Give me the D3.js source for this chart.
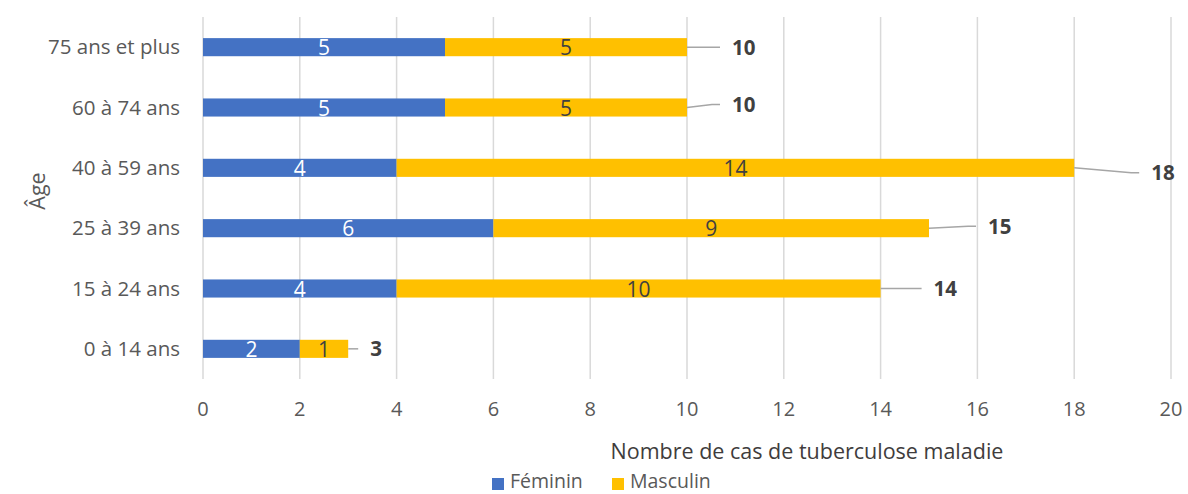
<!DOCTYPE html>
<html>
  <head>
    <meta charset="utf-8">
    <script src="https://cdn.jsdelivr.net/npm/d3@7"></script>
    <style>
      body, html {
        margin: 0;
        padding: 0;
        background: #fff;
        font-family: "Open Sans", "Noto Sans", sans-serif;
        overflow: hidden;
      }
    </style>
  </head>
  <body>
    <div id="chart"></div>
    <script>
    // data
    var ages = ['75 ans et plus', '60 à 74 ans', '40 à 59 ans', '25 à 39 ans', '15 à 24 ans', '0 à 14 ans'];
    var feminin = [5, 5, 4, 6, 4, 2];
    var masculin = [5, 5, 14, 9, 10, 1];
    var totals = [10, 10, 18, 15, 14, 3];
    var xTicks = [0, 2, 4, 6, 8, 10, 12, 14, 16, 18, 20];
    var seriesNames = ['Féminin', 'Masculin'];
    var colors = ['#4472C4', '#FFC000'];
    // leader line end offsets from bar end (px): dx, dy
    var leaderOff = [[33, 0], [33, -3], [65, 5], [47, -2], [41, 0], [10, 0]];

    var W = 1188, H = 494;
    var svg = d3.select('#chart').append('svg').attr('width', W).attr('height', H);

    var x = d3.scaleLinear().domain([0, 20]).range([203, 1171]);
    var y = d3.scaleBand().domain(ages).range([17, 379]).paddingInner(0.7).paddingOuter(0.35);

    // gridlines
    svg.append('g').selectAll('line').data(xTicks).enter().append('line')
      .attr('x1', function(d) { return x(d); })
      .attr('x2', function(d) { return x(d); })
      .attr('y1', 17).attr('y2', 379)
      .attr('stroke', '#d9d9d9').attr('stroke-width', 1.5);

    // tick labels
    svg.append('g').selectAll('text').data(xTicks).enter().append('text')
      .attr('x', function(d) { return x(d); })
      .attr('y', 416)
      .attr('text-anchor', 'middle')
      .attr('font-size', 20)
      .attr('fill', '#595959')
      .text(function(d) { return d; });

    // category labels
    svg.append('g').selectAll('text').data(ages).enter().append('text')
      .attr('x', 180)
      .attr('y', function(d) { return y(d) + y.bandwidth() / 2 + 7; })
      .attr('text-anchor', 'end')
      .attr('font-size', 20.5)
      .attr('fill', '#595959')
      .text(function(d) { return d; });

    // stacked bars
    var rows = ages.map(function(a, i) {
      return {age: a, f: feminin[i], m: masculin[i], t: totals[i], off: leaderOff[i]};
    });
    var stack = d3.stack().keys(['f', 'm'])(rows);

    stack.forEach(function(layer, k) {
      var g = svg.append('g');
      g.selectAll('rect').data(layer).enter().append('rect')
        .attr('x', function(d) { return x(d[0]); })
        .attr('width', function(d) { return x(d[1]) - x(d[0]); })
        .attr('y', function(d) { return y(d.data.age); })
        .attr('height', y.bandwidth())
        .attr('fill', colors[k]);
      g.selectAll('text').data(layer).enter().append('text')
        .attr('x', function(d) { return (x(d[0]) + x(d[1])) / 2; })
        .attr('y', function(d) { return y(d.data.age) + y.bandwidth() / 2 + 8; })
        .attr('text-anchor', 'middle')
        .attr('font-size', 21)
        .attr('fill', k === 0 ? '#ffffff' : '#404040')
        .text(function(d) { return d[1] - d[0]; });
    });

    // totals with leader lines
    var tg = svg.append('g');
    rows.forEach(function(r) {
      var x0 = x(r.f + r.m), y0 = y(r.age) + y.bandwidth() / 2;
      var x1 = x0 + r.off[0], y1 = y0 + r.off[1];
      var path = r.off[1] === 0
        ? 'M' + x0 + ',' + y0 + 'H' + x1
        : 'M' + x0 + ',' + y0 + 'L' + (x1 - 8) + ',' + y1 + 'H' + x1;
      tg.append('path').attr('d', path).attr('fill', 'none')
        .attr('stroke', '#a6a6a6').attr('stroke-width', 1.5);
      tg.append('text')
        .attr('x', x1 + 12)
        .attr('y', y1 + 7.5)
        .attr('font-size', 20.5)
        .attr('font-weight', 'bold')
        .attr('fill', '#404040')
        .text(r.t);
    });

    // axis titles
    svg.append('text')
      .attr('x', 807).attr('y', 459)
      .attr('text-anchor', 'middle')
      .attr('font-size', 21.5)
      .attr('fill', '#403c3c')
      .text('Nombre de cas de tuberculose maladie');

    svg.append('text')
      .attr('transform', 'translate(45,191) rotate(-90)')
      .attr('text-anchor', 'middle')
      .attr('font-size', 21.5)
      .attr('fill', '#595959')
      .text('Âge');

    // legend
    var legX = [492, 612];
    var lg = svg.append('g');
    seriesNames.forEach(function(n, i) {
      lg.append('rect').attr('x', legX[i]).attr('y', 478).attr('width', 12).attr('height', 12).attr('fill', colors[i]);
      lg.append('text').attr('x', legX[i] + 18).attr('y', 488)
        .attr('font-size', 19.5).attr('fill', '#595959').text(n);
    });
    </script>
  </body>
</html>
